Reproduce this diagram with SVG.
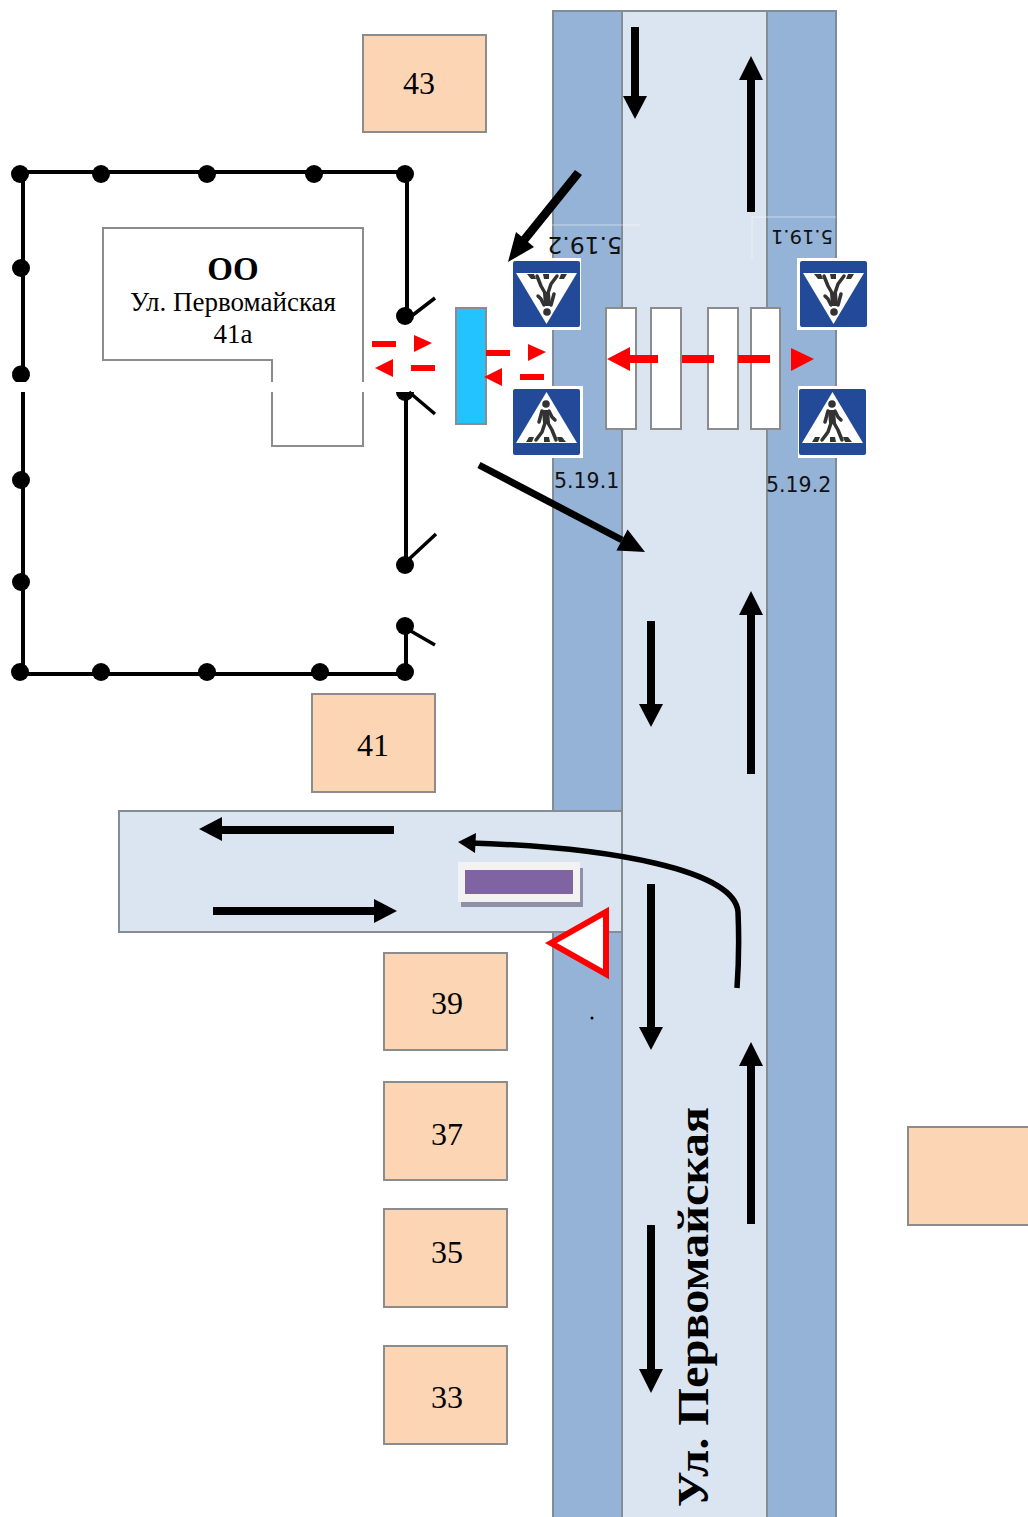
<svg xmlns="http://www.w3.org/2000/svg" width="1028" height="1517" viewBox="0 0 1028 1517">
<style>
.walk{fill:#95b3d7;stroke:#7f8c9a;stroke-width:2}
.road{fill:#dbe5f1;stroke:#858c94;stroke-width:2}
.house{fill:#fcd5b5;stroke:#8c8c8c;stroke-width:2}
.num{font-family:"Liberation Serif",serif;font-size:32px;fill:#000;text-anchor:middle}
.stripe{fill:#fff;stroke:#8c8c8c;stroke-width:2}
.fence{fill:none;stroke:#000;stroke-width:4}
.gate{fill:none;stroke:#000;stroke-width:3.5}
.red{fill:#f00}
.lbl{font-family:"DejaVu Sans",sans-serif;font-size:20.500px;fill:#111}
.ped{fill:#333}
.pedl{fill:none;stroke:#333;stroke-width:3.500;stroke-linecap:round;stroke-linejoin:round}
</style>
<defs>
<g id="sign">
<rect x="-1" y="-3" width="71" height="72" fill="#fff"/>
<rect x="0" y="0" width="67" height="66" rx="2" fill="#224a98"/>
<path d="M33.500 3L64 54H3Z" fill="#fff"/>
<path d="M13 53l3-5h5l-2 5zM31 53l0-5h5l1 5zM46 53l-2-5h5l4 5z" fill="#333"/>
<circle cx="33" cy="15" r="3.800" class="ped"/>
<path d="M29 21h7l1 13h-7z" class="ped"/>
<path d="M29 22l-3 11M36 22l3 6 3 3M32 34l-3 9-6 8M35 34l4 7 4 10" class="pedl"/>
</g>
</defs>

<g id="road">
<rect class="walk" x="553" y="11" width="283" height="1510"/>
<rect class="road" x="622" y="11" width="145" height="1510"/>
</g>

<g id="side-road">
<rect class="road" x="119" y="811" width="503" height="121"/>
</g>

<g id="house-43"><rect class="house" x="363" y="35" width="123" height="97"/><text class="num" x="419" y="94">43</text></g>
<g id="house-41"><rect class="house" x="312" y="694" width="123" height="98"/><text class="num" x="373" y="756">41</text></g>
<g id="house-39"><rect class="house" x="384" y="953" width="123" height="97"/><text class="num" x="447" y="1014">39</text></g>
<g id="house-37"><rect class="house" x="384" y="1082" width="123" height="98"/><text class="num" x="447" y="1145">37</text></g>
<g id="house-35"><rect class="house" x="384" y="1209" width="123" height="98"/><text class="num" x="447" y="1263">35</text></g>
<g id="house-33"><rect class="house" x="384" y="1346" width="123" height="98"/><text class="num" x="447" y="1408">33</text></g>
<g id="house-right"><rect class="house" x="908" y="1127" width="125" height="98"/></g>

<g id="school">
<path d="M272 382V360H103V228H363V382M272 392V446H363V392" fill="#fff" stroke="#8c8c8c" stroke-width="2"/>
<text x="233" y="280" font-family="Liberation Serif,serif" font-size="33" font-weight="bold" text-anchor="middle">ОО</text>
<text x="233" y="311" font-family="Liberation Serif,serif" font-size="27" text-anchor="middle">Ул. Первомайская</text>
<text x="233" y="343" font-family="Liberation Serif,serif" font-size="27" text-anchor="middle">41а</text>
</g>

<g id="fence">
<path class="fence" d="M407 316V172H23V382M23 392V674H406V626M406 565V396"/>
<g fill="#000">
<circle cx="20" cy="174" r="9"/><circle cx="101" cy="174" r="9"/><circle cx="207" cy="174" r="9"/><circle cx="314" cy="174" r="9"/><circle cx="405" cy="174" r="9"/>
<circle cx="21" cy="268" r="9"/><circle cx="21" cy="480" r="9"/><circle cx="21" cy="582" r="9"/>
<circle cx="20" cy="672" r="9"/><circle cx="101" cy="672" r="9"/><circle cx="207" cy="672" r="9"/><circle cx="320" cy="672" r="9"/><circle cx="405" cy="672" r="9"/>
<circle cx="405" cy="316" r="9"/><circle cx="405" cy="565" r="9"/><circle cx="405" cy="626" r="9"/>
<path d="M16 382A9 9 0 1 1 26 382Z"/>
<path d="M396 392h18a9 9 0 0 1-18 0z"/>
</g>
<path class="gate" d="M409 318L435 298M409 392L435 414M407 561L436 534M409 630L435 645"/>
</g>

<g id="bus-stop">
<rect x="461" y="868" width="122" height="39" fill="#8f8fa8"/>
<rect x="458" y="862" width="122" height="40" fill="#f2f2f2"/>
<rect x="465" y="870" width="108" height="24" fill="#8064a2"/>
</g>

<g id="island"><rect x="456" y="308" width="30" height="116" fill="#22c3ff" stroke="#8c8c8c" stroke-width="2"/></g>

<g id="crossing">
<rect class="stripe" x="606" y="308" width="30" height="121"/>
<rect class="stripe" x="651" y="308" width="30" height="121"/>
<rect class="stripe" x="708" y="308" width="30" height="121"/>
<rect class="stripe" x="751" y="308" width="29" height="121"/>
</g>

<g id="signs">
<use href="#sign" x="513" y="389"/>
<use href="#sign" x="799" y="389"/>
<use href="#sign" transform="translate(580 327) rotate(180)"/>
<use href="#sign" transform="translate(867 327) rotate(180)"/>
<path d="M535 258V225H640M752 258V217H836" fill="none" stroke="#fff" stroke-opacity=".5"/>
<text class="lbl" x="554" y="488">5.19.1</text>
<text class="lbl" x="766" y="492">5.19.2</text>
<text class="lbl" transform="translate(622 237) rotate(180)" style="font-size:23.500px">5.19.2</text>
<text class="lbl" transform="translate(833 230) rotate(180)" style="font-size:19.500px">5.19.1</text>
</g>

<g id="yield-sign"><path d="M551 943L606 912V974Z" fill="#fff" stroke="#f00" stroke-width="6"/></g>
<circle cx="592" cy="1018" r="1.500" fill="#000"/>

<g id="connectors">
<g fill="#000">
<path d="M631 27h8v72h-8z"/><path d="M623 96h24l-12 23z"/>
<path d="M747 212h8V78h-8z"/><path d="M739 80h24l-12-24z"/>
<path d="M647 621h8v85h-8z"/><path d="M639 704h24l-12 23z"/>
<path d="M747 774h8V612h-8z"/><path d="M739 615h24l-12-24z"/>
<path d="M647 884h8v145h-8z"/><path d="M639 1027h24l-12 23z"/>
<path d="M747 1224h8V1063h-8z"/><path d="M739 1066h24l-12-24z"/>
<path d="M647 1225h8v146h-8z"/><path d="M639 1369h24l-12 24z"/>
<path d="M394 826v8H220v-8z"/><path d="M222 817v24l-23-12z"/>
<path d="M213 907v8H376v-8z"/><path d="M374 899v24l23-12z"/>
<path d="M575 170l7 5-58 72-7-5z"/><path d="M508 262l8-30 18 15z"/>
<path d="M477.400 468.100L480.600 461.900L623.600 536.900L620.400 543.100Z"/><path d="M645 552L616.400 550.600L627.600 529.400Z"/>
<path d="M458 842l18-9-1 20z"/>
</g>
<path d="M737 988C739 960 739 935 738 912C735 870 610 847 470 843" fill="none" stroke="#000" stroke-width="5.500"/>
<g class="red">
<rect x="372" y="341" width="24" height="6"/><path d="M414 335l18 8-18 9z"/>
<rect x="411" y="365" width="24" height="6"/><path d="M393 359l-18 9 18 9z"/>
<rect x="486" y="350" width="24" height="6"/><path d="M528 344l18 8-18 9z"/>
<rect x="520" y="374" width="24" height="6"/><path d="M502 368l-18 9 18 9z"/>
<rect x="630" y="355" width="28" height="8"/><path d="M607 359l23-12v24z"/>
<rect x="682" y="355" width="32" height="8"/>
<rect x="738" y="355" width="32" height="8"/>
<path d="M791 348l23 11-23 12z"/>
</g>
</g>

<text transform="translate(708 1507) rotate(-90)" font-family="Liberation Serif,serif" font-size="44" font-weight="bold" textLength="400" lengthAdjust="spacingAndGlyphs">Ул. Первомайская</text>
</svg>
